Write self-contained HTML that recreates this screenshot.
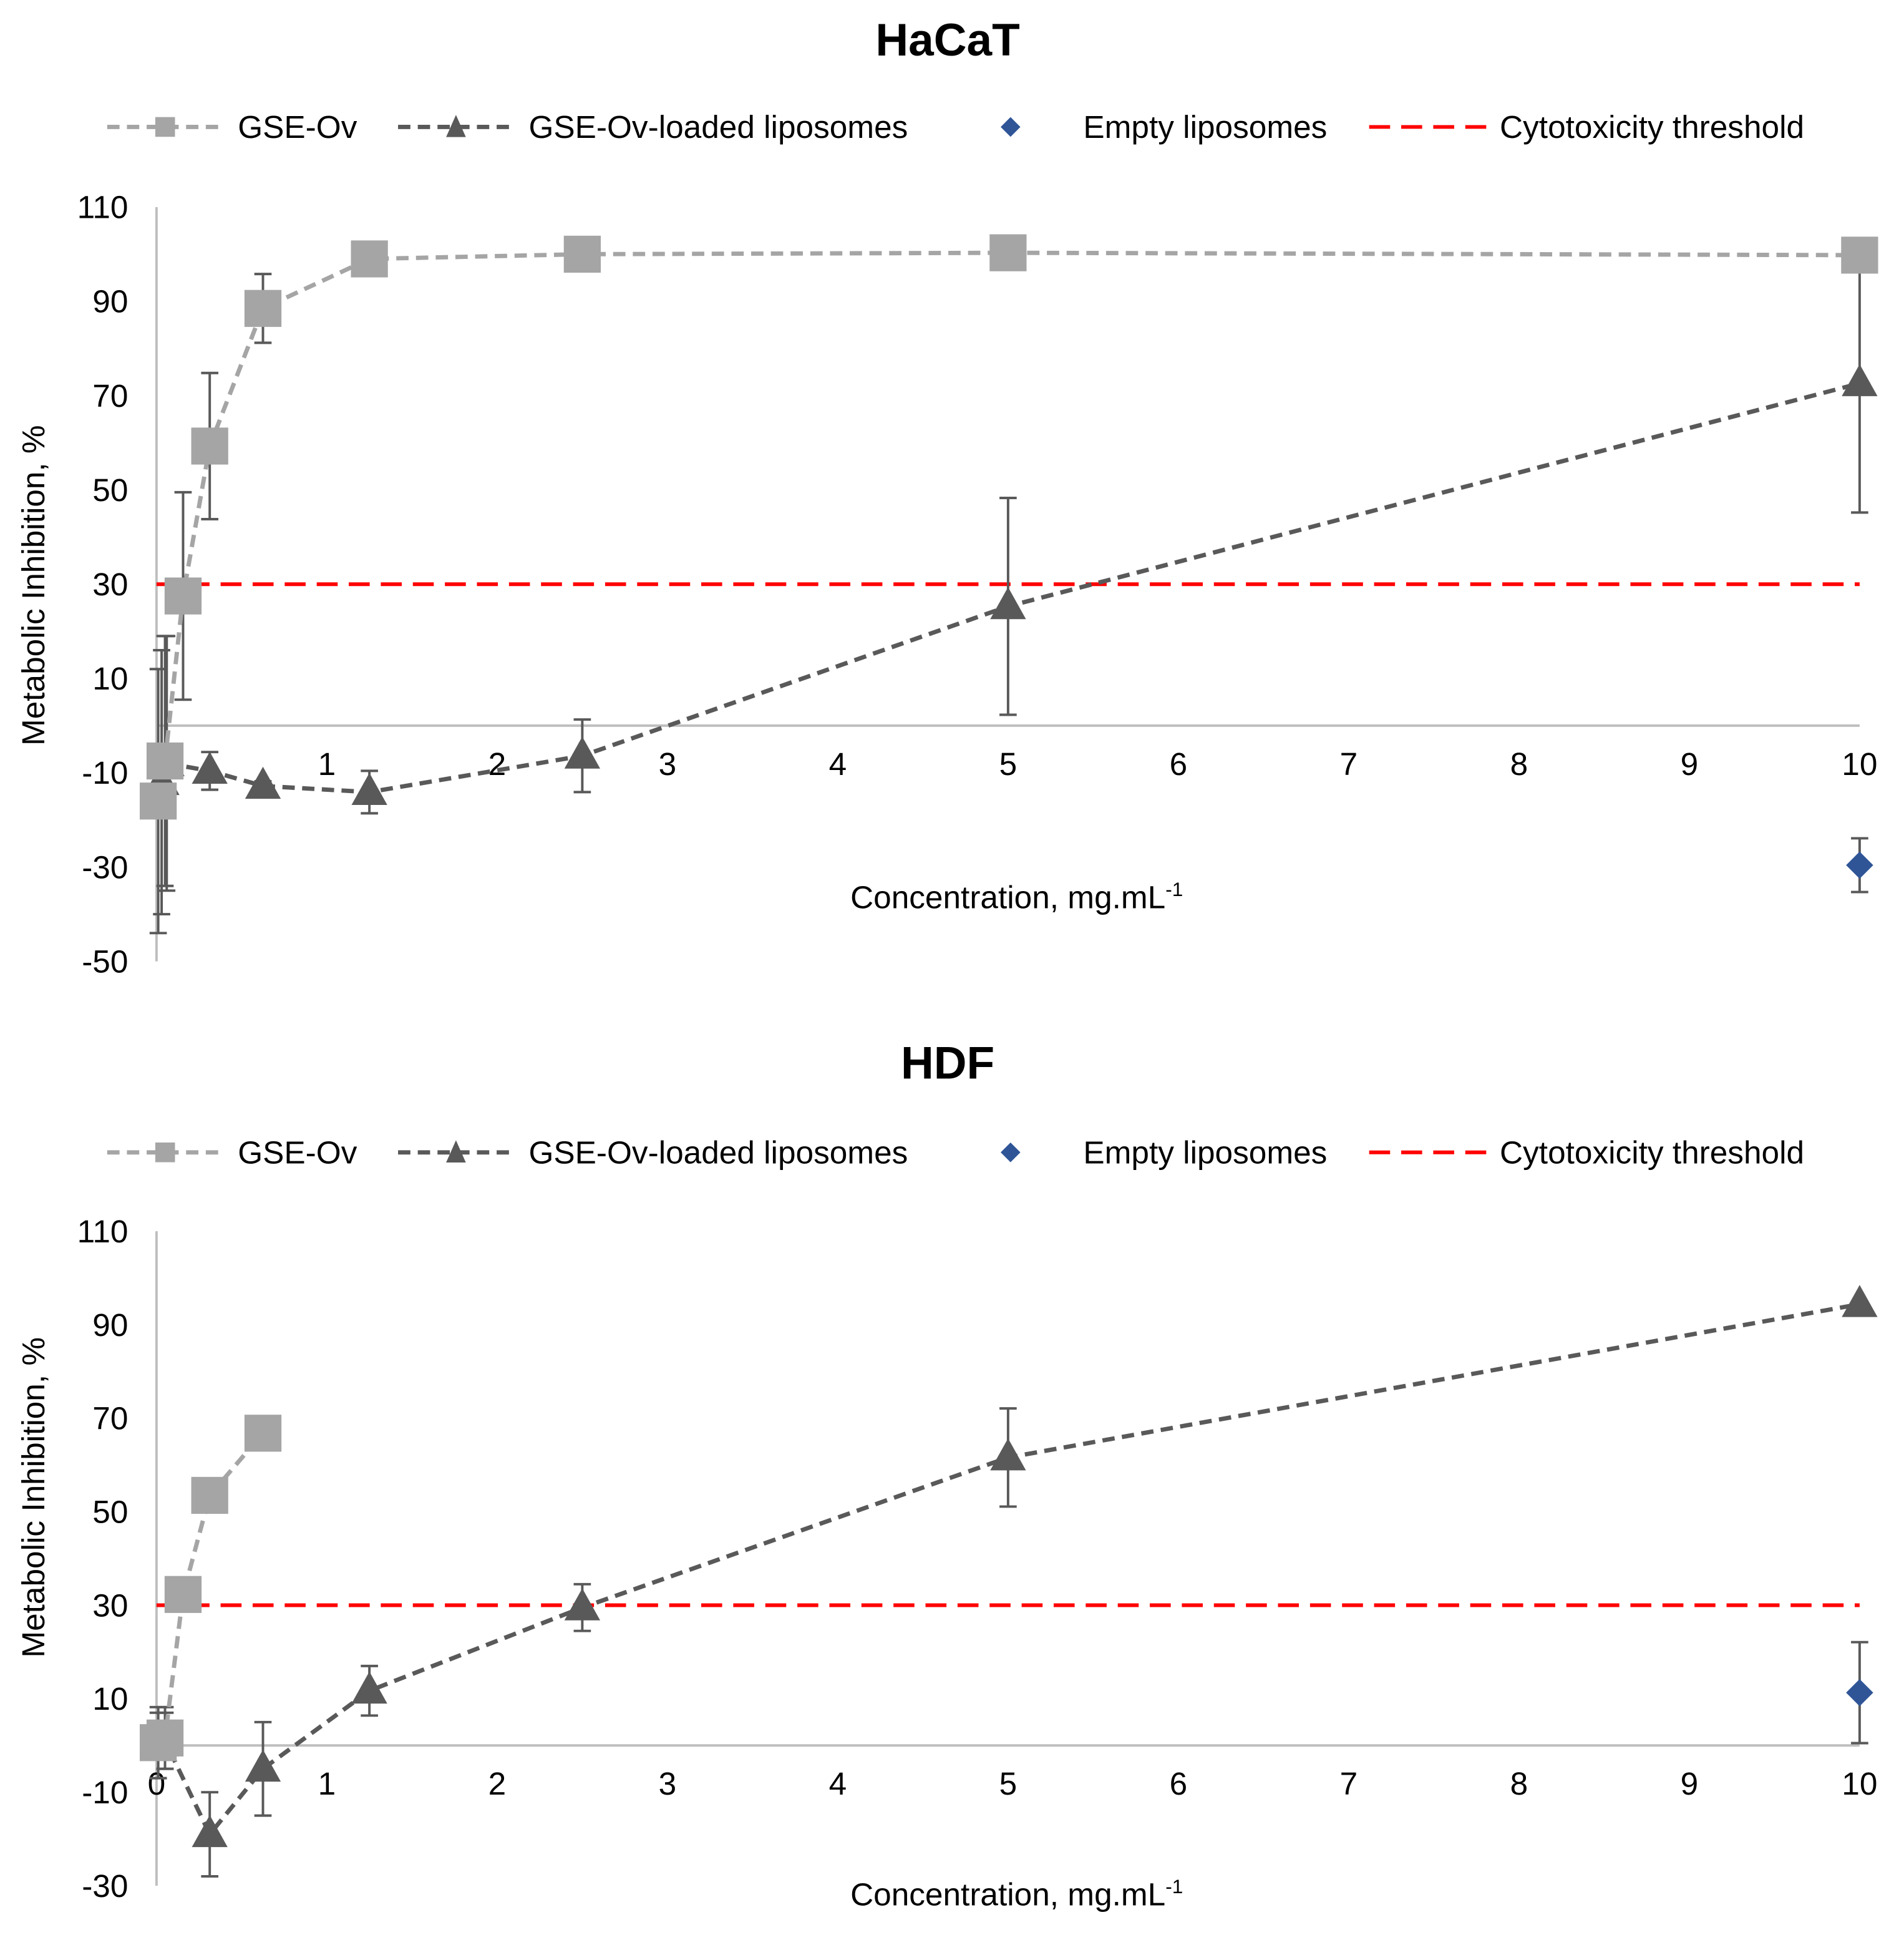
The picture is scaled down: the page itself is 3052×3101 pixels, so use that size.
<!DOCTYPE html>
<html><head><meta charset="utf-8"><style>
html,body{margin:0;padding:0;background:#fff;}
svg{display:block;font-family:"Liberation Sans",Arial,sans-serif;}
</style></head><body>
<svg id="fig" width="3052" height="3101" viewBox="0 0 1545 1570" preserveAspectRatio="none" xmlns="http://www.w3.org/2000/svg"></svg>
<script>
// HaCaT data
const hacatGseX = [0.01, 0.05, 0.156, 0.3125, 0.625, 1.25, 2.5, 5, 10];
const hacatGseY = [-16, -7.5, 27.5, 59.3, 88.5, 99, 100, 100.3, 99.8];
const hacatGseErr = [28, 26.5, 22, 15.5, 7.3, 0.5, 0.5, 0.5, 0.5];
const hacatLipX = [0.03, 0.06, 0.3125, 0.625, 1.25, 2.5, 5, 10];
const hacatLipY = [-12, -8, -9.6, -12.8, -14.1, -6.4, 25.3, 72.6];
const hacatLipErr = [28, 27, 4, 1, 4.5, 7.7, 23, 27.4];
const hacatEmptyX = [10];
const hacatEmptyY = [-29.6];
const hacatEmptyErr = [5.7];
// HDF data
const hdfGseX = [0.01, 0.05, 0.156, 0.3125, 0.625];
const hdfGseY = [0.6, 1.6, 32.3, 53.5, 66.8];
const hdfGseErr = [7.6, 6.6, 0.5, 0.5, 0.5];
const hdfLipX = [0.01, 0.05, 0.3125, 0.625, 1.25, 2.5, 5, 10];
const hdfLipY = [0, 1, -19, -5, 11.7, 29.5, 61.6, 94.4];
const hdfLipErr = [7, 6, 9, 10, 5.3, 5, 10.5, 0];
const hdfEmptyX = [10];
const hdfEmptyY = [11.3];
const hdfEmptyErr = [10.8];
const xTicks = [0,1,2,3,4,5,6,7,8,9,10];
const hacatYTicks = [110,90,70,50,30,10,-10,-30,-50];
const hdfYTicks = [110,90,70,50,30,10,-10,-30];
const threshold = 30;

const NS = "http://www.w3.org/2000/svg";
const svg = document.getElementById('fig');
const FS = 26;
function mk(tag, attrs, parent){const e=document.createElementNS(NS,tag);for(const k in attrs)e.setAttribute(k,attrs[k]);(parent||svg).appendChild(e);return e;}
function txt(s, attrs, parent){const e=mk('text',attrs,parent);e.textContent=s;return e;}

function square(g,cx,cy,s){return mk('rect',{x:cx-s/2,y:cy-s/2,width:s,height:s,fill:'#a5a5a5'},g);}
function tri(g,cx,cy,w,h){return mk('polygon',{points:`${cx},${cy-h*0.6} ${cx-w/2},${cy+h*0.4} ${cx+w/2},${cy+h*0.4}`,fill:'#595959'},g);}
function diamond(g,cx,cy,r){return mk('polygon',{points:`${cx},${cy-r} ${cx+r},${cy} ${cx},${cy+r} ${cx-r},${cy}`,fill:'#2f5597'},g);}

function legend(y, g){
  const lg = mk('g',{},g);
  
  
  const e1=mk('g',{},lg);  
  mk('line',{x1:87,y1:y,x2:178,y2:y,stroke:'#a5a5a5','stroke-width':3.5,'stroke-dasharray':'10 6'},e1);
  square(e1,134,y,16);
  txt('GSE-Ov',{x:193,y:y+9,'font-size':FS,fill:'#000'},e1);
  const e2=mk('g',{},lg);  
  mk('line',{x1:323,y1:y,x2:414,y2:y,stroke:'#595959','stroke-width':3.5,'stroke-dasharray':'10 6'},e2);
  tri(e2,370,y+1,16,18);
  txt('GSE-Ov-loaded liposomes',{x:429,y:y+9,'font-size':FS,fill:'#000'},e2);
  const e3=mk('g',{},lg);  
  diamond(e3,820,y,8);
  txt('Empty liposomes',{x:879,y:y+9,'font-size':FS,fill:'#000'},e3);
  const e4=mk('g',{},lg);  
  mk('line',{x1:1111,y1:y,x2:1207,y2:y,stroke:'#ff0000','stroke-width':3,'stroke-dasharray':'17 9'},e4);
  txt('Cytotoxicity threshold',{x:1217,y:y+9,'font-size':FS,fill:'#000'},e4);
}

function chart(o){
  const g = mk('g',{});
  
  
  const x0=127, x1=1509, xmax=10;
  const sx = v => x0 + v*(x1-x0)/xmax;
  const sy = v => o.yTop + (o.ymax - v)*(o.yBot-o.yTop)/(o.ymax-o.ymin);
  const t=txt(o.title,{x:769,y:o.titleY,'font-size':37,'font-weight':'bold','text-anchor':'middle',fill:'#000'},g);
   
  legend(o.legendY,g);
  const ya=mk('line',{x1:x0,y1:o.yTop,x2:x0,y2:o.yBot,stroke:'#bfbfbf','stroke-width':2},g);
   
  const xa=mk('line',{x1:x0,y1:sy(0),x2:x1,y2:sy(0),stroke:'#bfbfbf','stroke-width':2},g);
   
  o.yTicks.forEach(v=>{
    const e=txt(String(v),{x:104,y:sy(v)+9,'font-size':FS,'text-anchor':'end',fill:'#000'},g);
     
  });
  xTicks.forEach(v=>{
    const e=txt(String(v),{x:sx(v),y:sy(0)+40,'font-size':FS,'text-anchor':'middle',fill:'#000'},g);
     
  });
  const yt=txt('Metabolic Inhibition, %',{x:0,y:0,'font-size':FS,'text-anchor':'middle',fill:'#000',transform:`translate(36,${o.yTitleC}) rotate(-90)`},g);
   
  const xt=mk('text',{x:825,y:o.xTitleY,'font-size':FS,'text-anchor':'middle',fill:'#000'},g);
   
  xt.appendChild(document.createTextNode('Concentration,  mg.mL'));
  const ts=document.createElementNS(NS,'tspan'); ts.setAttribute('font-size','16'); ts.setAttribute('dy','-10'); ts.textContent='-1'; xt.appendChild(ts);
  const th=mk('line',{x1:x0,y1:sy(threshold),x2:x1,y2:sy(threshold),stroke:'#ff0000','stroke-width':3,'stroke-dasharray':'17 9'},g);
   
  function errs(X,Y,E,name){
    const eg=mk('g',{},g);
     
    X.forEach((xv,i)=>{ if(!E[i]) return;
      const cx=sx(xv), a=sy(Y[i]+E[i]), b=sy(Y[i]-E[i]);
      mk('line',{x1:cx,y1:a,x2:cx,y2:b,stroke:'#595959','stroke-width':2},eg);
      mk('line',{x1:cx-7,y1:a,x2:cx+7,y2:a,stroke:'#595959','stroke-width':2},eg);
      mk('line',{x1:cx-7,y1:b,x2:cx+7,y2:b,stroke:'#595959','stroke-width':2},eg);
    });
  }
  errs(o.gX,o.gY,o.gE,'gse-ov-error-bars');
  errs(o.lX,o.lY,o.lE,'liposome-error-bars');
  errs(o.eX,o.eY,o.eE,'empty-liposome-error-bars');
  const gl=mk('polyline',{points:o.gX.map((v,i)=>sx(v)+','+sy(o.gY[i])).join(' '),fill:'none',stroke:'#a5a5a5','stroke-width':3.5,'stroke-dasharray':'10 6'},g);
   
  const ll=mk('polyline',{points:o.lX.map((v,i)=>sx(v)+','+sy(o.lY[i])).join(' '),fill:'none',stroke:'#595959','stroke-width':3.5,'stroke-dasharray':'10 6'},g);
   
  o.lX.forEach((v,i)=>{const m=tri(g,sx(v),sy(o.lY[i]),29,26);
     });
  o.gX.forEach((v,i)=>{const m=square(g,sx(v),sy(o.gY[i]),30);
     });
  o.eX.forEach((v,i)=>{const m=diamond(g,sx(v),sy(o.eY[i]),11);
     });
}

chart({name:'hacat-chart',title:'HaCaT',titleY:45,legendY:103,yTop:168,yBot:780,ymax:110,ymin:-50,yTicks:hacatYTicks,yTitleC:475,xTitleY:737,
  gX:hacatGseX,gY:hacatGseY,gE:hacatGseErr,lX:hacatLipX,lY:hacatLipY,lE:hacatLipErr,eX:hacatEmptyX,eY:hacatEmptyY,eE:hacatEmptyErr});
chart({name:'hdf-chart',title:'HDF',titleY:875,legendY:935,yTop:999,yBot:1530,ymax:110,ymin:-30,yTicks:hdfYTicks,yTitleC:1215,xTitleY:1546,
  gX:hdfGseX,gY:hdfGseY,gE:hdfGseErr,lX:hdfLipX,lY:hdfLipY,lE:hdfLipErr,eX:hdfEmptyX,eY:hdfEmptyY,eE:hdfEmptyErr});
</script>
</body></html>
